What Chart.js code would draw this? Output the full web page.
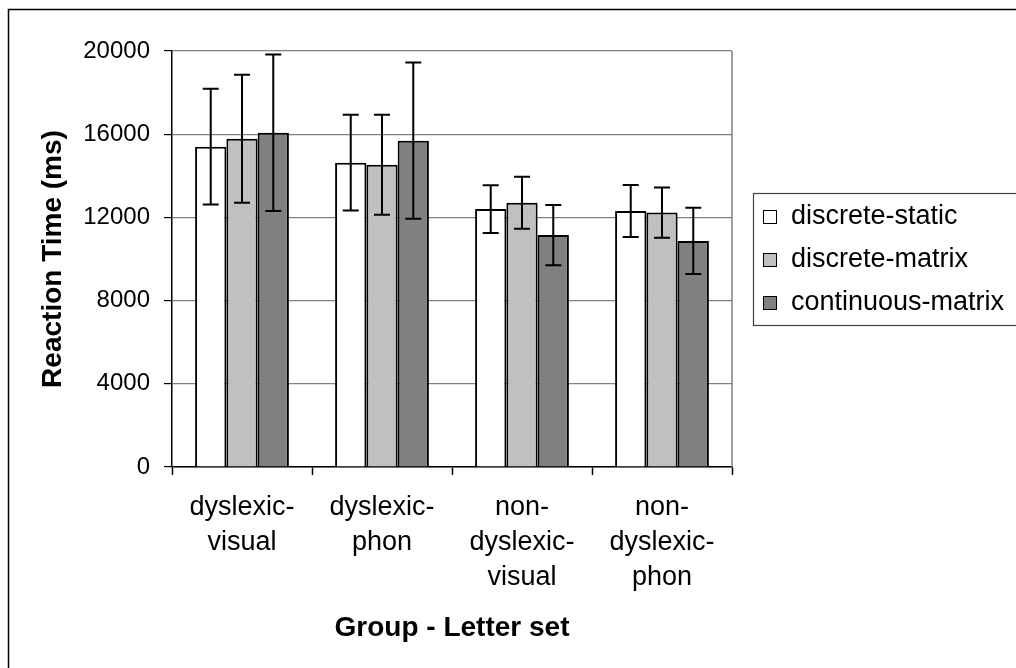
<!DOCTYPE html>
<html>
<head>
<meta charset="utf-8">
<script src="https://cdn.jsdelivr.net/npm/chart.js@4/dist/chart.umd.min.js"></script>
<style>
  html, body { margin: 0; padding: 0; background: #fff; }
  #wrap { width: 1016px; height: 668px; }
</style>
</head>
<body>
<div id="wrap"><canvas id="rtChart" width="1016" height="668"></canvas></div>
<script>
var groups = [['dyslexic-', 'visual'], ['dyslexic-', 'phon'], ['non-', 'dyslexic-', 'visual'], ['non-', 'dyslexic-', 'phon']];
var yTicks = [0, 4000, 8000, 12000, 16000, 20000];

var discreteStatic = [15400, 14630, 12400, 12310];
var discreteStaticErr = [2780, 2300, 1150, 1250];
var discreteMatrix = [15780, 14530, 12710, 12230];
var discreteMatrixErr = [3080, 2400, 1250, 1210];
var continuousMatrix = [16070, 15690, 11150, 10870];
var continuousMatrixErr = [3760, 3760, 1450, 1590];

var FONT = "'Liberation Sans', Arial, sans-serif";

// error bars drawn from the bar elements and the y scale
var errorBars = {
    id: 'errorBars',
    afterDatasetsDraw: function(chart) {
        var ctx = chart.ctx;
        var y = chart.scales.y;
        ctx.save();
        ctx.strokeStyle = '#000';
        ctx.lineWidth = 2;
        chart.data.datasets.forEach(function(ds, di) {
            var meta = chart.getDatasetMeta(di);
            meta.data.forEach(function(bar, i) {
                var v = ds.data[i], e = ds.errors[i];
                var top = y.getPixelForValue(v + e);
                var bot = y.getPixelForValue(v - e);
                ctx.beginPath();
                ctx.moveTo(bar.x, top); ctx.lineTo(bar.x, bot);
                ctx.moveTo(bar.x - 8, top); ctx.lineTo(bar.x + 8, top);
                ctx.moveTo(bar.x - 8, bot); ctx.lineTo(bar.x + 8, bot);
                ctx.stroke();
            });
        });
        ctx.restore();
    }
};

// outer frame, right plot border and boxed legend
var frame = {
    id: 'frame',
    beforeDraw: function(chart) {
        var ctx = chart.ctx;
        ctx.save();
        ctx.fillStyle = '#fff';
        ctx.fillRect(0, 0, chart.width, chart.height);
        ctx.strokeStyle = '#000';
        ctx.lineWidth = 1.5;
        ctx.strokeRect(8.5, 9.5, chart.width + 20, chart.height + 20);
        ctx.restore();
    },
    afterDraw: function(chart) {
        var ctx = chart.ctx;
        var a = chart.chartArea;
        ctx.save();
        ctx.strokeStyle = '#808080';
        ctx.lineWidth = 1.5;
        ctx.beginPath();
        ctx.moveTo(a.right, a.top); ctx.lineTo(a.right, a.bottom);
        ctx.stroke();

        var left = a.right + 21;
        var mid = (a.top + a.bottom) / 2 + 1;
        var step = 43;
        ctx.strokeStyle = '#404040';
        ctx.lineWidth = 1.2;
        ctx.strokeRect(left + 0.5, mid - 66.5, chart.width, 132);
        ctx.font = '27px ' + FONT;
        ctx.textBaseline = 'middle';
        ctx.textAlign = 'left';
        chart.data.datasets.forEach(function(ds, i) {
            var cy = mid + (i - 1) * step;
            ctx.fillStyle = ds.backgroundColor;
            ctx.fillRect(left + 10, cy - 7, 14, 14);
            ctx.strokeStyle = '#000';
            ctx.lineWidth = 1;
            ctx.strokeRect(left + 10.5, cy - 6.5, 13, 13);
            ctx.fillStyle = '#000';
            ctx.fillText(ds.label, left + 38, cy);
        });
        ctx.restore();
    }
};

new Chart(document.getElementById('rtChart').getContext('2d'), {
    type: 'bar',
    data: {
        labels: groups,
        datasets: [{
            label: 'discrete-static',
            data: discreteStatic,
            errors: discreteStaticErr,
            backgroundColor: '#ffffff',
            borderColor: '#000',
            borderWidth: 2
        }, {
            label: 'discrete-matrix',
            data: discreteMatrix,
            errors: discreteMatrixErr,
            backgroundColor: '#c0c0c0',
            borderColor: '#000',
            borderWidth: 2
        }, {
            label: 'continuous-matrix',
            data: continuousMatrix,
            errors: continuousMatrixErr,
            backgroundColor: '#808080',
            borderColor: '#000',
            borderWidth: 2
        }]
    },
    options: {
        responsive: false,
        animation: false,
        layout: { padding: { top: 51, right: 284, left: 0, bottom: 0 } },
        plugins: {
            legend: { display: false },
            tooltip: { enabled: false }
        },
        datasets: {
            bar: { categoryPercentage: 0.67, barPercentage: 1.0 }
        },
        scales: {
            x: {
                grid: {
                    offset: true,
                    drawOnChartArea: false,
                    tickLength: 8,
                    tickColor: '#000',
                    tickWidth: 1.5
                },
                border: { color: '#000', width: 1.5 },
                ticks: {
                    color: '#000',
                    padding: 15,
                    maxRotation: 0,
                    autoSkip: false,
                    font: { family: FONT, size: 27, lineHeight: 1.3 }
                },
                title: {
                    display: true,
                    text: 'Group - Letter set',
                    color: '#000',
                    padding: { top: 0, bottom: 23 },
                    font: { family: FONT, size: 28, weight: 'bold', lineHeight: 1.2 }
                },
                afterFit: function(scale) { scale.height = 201; }
            },
            y: {
                min: 0,
                max: 20000,
                afterBuildTicks: function(scale) {
                    scale.ticks = yTicks.map(function(v) { return { value: v }; });
                },
                grid: {
                    color: '#808080',
                    lineWidth: 1.2,
                    tickLength: 8,
                    tickColor: '#000'
                },
                border: { color: '#000', width: 1.5 },
                ticks: {
                    color: '#000',
                    padding: 14,
                    font: { family: FONT, size: 24 },
                    callback: function(v) { return String(v); }
                },
                title: {
                    display: true,
                    text: 'Reaction Time (ms)',
                    color: '#000',
                    padding: { top: 36, bottom: 0 },
                    font: { family: FONT, size: 28, weight: 'bold', lineHeight: 1.2 }
                },
                afterFit: function(scale) { scale.width = 172; }
            }
        }
    },
    plugins: [frame, errorBars]
});
</script>
</body>
</html>
